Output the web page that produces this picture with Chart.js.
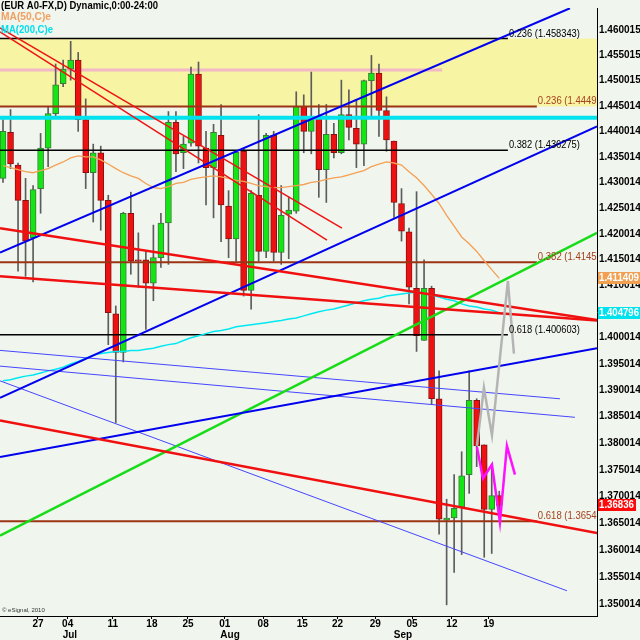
<!DOCTYPE html>
<html><head><meta charset="utf-8">
<script src="https://cdn.jsdelivr.net/npm/chart.js@4.4.1/dist/chart.umd.min.js"></script>
<style>html,body{margin:0;padding:0;background:#f0f5ee;}canvas{display:block;}</style>
</head><body>
<canvas id="c" width="640" height="640"></canvas>
<script>
// ---------- DATA ----------
const opens = [1.4308,1.4398,1.4334,1.4265,1.4192,1.4288,1.4367,1.4435,1.4494,1.4523,
1.4541,1.4423,1.4319,1.4358,1.4265,1.4046,1.3972,1.4240,1.4150,1.4150,
1.4105,1.4154,1.4221,1.4418,1.4358,1.4377,1.4513,1.4367,1.4329,1.4392,
1.4254,1.4190,1.4361,1.4091,1.4275,1.4166,1.4392,1.4164,1.4238,1.4244,
1.4449,1.4400,1.4425,1.4325,1.4394,1.4358,1.4433,1.4406,1.4375,1.4500,
1.4515,1.4441,1.4381,1.4259,1.4204,1.4095,1.3995,1.4095,1.3884,1.3656,
1.3660,1.3680,1.3741,1.3881,1.3797,1.3676,1.3702];
const highs = [1.4423,1.4443,1.4338,1.4308,1.4294,1.4396,1.4449,1.4533,1.4541,1.4578,
1.4556,1.4464,1.4375,1.4371,1.4275,1.4061,1.4242,1.4281,1.4202,1.4166,
1.4217,1.4240,1.4439,1.4439,1.4390,1.4527,1.4537,1.4400,1.4414,1.4453,
1.4284,1.4361,1.4365,1.4284,1.4433,1.4396,1.4400,1.4294,1.4271,1.4478,
1.4472,1.4517,1.4453,1.4453,1.4416,1.4501,1.4482,1.4462,1.4501,1.4550,
1.4533,1.4468,1.4381,1.4288,1.4211,1.4282,1.4150,1.4099,1.3937,1.3695,
1.3741,1.3784,1.3937,1.3884,1.3797,1.3760,1.3710];
const lows = [1.4300,1.4327,1.4128,1.4118,1.4107,1.4240,1.4331,1.4429,1.4488,1.4501,
1.4400,1.4288,1.4223,1.4207,1.3987,1.3839,1.3954,1.4122,1.4097,1.4016,
1.4071,1.4135,1.4141,1.4321,1.4327,1.4371,1.4338,1.4256,1.4231,1.4185,
1.4154,1.4147,1.4080,1.4055,1.4147,1.4154,1.4147,1.4141,1.4152,1.4240,
1.4358,1.4356,1.4271,1.4261,1.4348,1.4356,1.4383,1.4329,1.4333,1.4425,
1.4390,1.4361,1.4232,1.4186,1.4065,1.3974,1.3995,1.3873,1.3630,1.3499,
1.3559,1.3592,1.3706,1.3756,1.3587,1.3594,1.3669];
const closes = [1.4400,1.4336,1.4265,1.4186,1.4286,1.4367,1.4435,1.4492,1.4523,1.4541,
1.4423,1.4319,1.4358,1.4265,1.4048,1.3972,1.4240,1.4147,1.4148,1.4105,
1.4154,1.4221,1.4418,1.4356,1.4375,1.4513,1.4371,1.4329,1.4398,1.4256,
1.4190,1.4359,1.4091,1.4279,1.4166,1.4392,1.4164,1.4236,1.4246,1.4449,
1.4400,1.4425,1.4325,1.4394,1.4358,1.4433,1.4408,1.4375,1.4500,1.4515,
1.4441,1.4383,1.4261,1.4205,1.4097,1.4004,1.4095,1.3884,1.3658,1.3660,
1.3678,1.3739,1.3881,1.3795,1.3676,1.3702,1.36836];
const ma50 = [1.4333,1.4329,1.4325,1.4321,1.4319,1.4323,1.4327,1.4334,1.4340,1.4348,
1.4352,1.4350,1.4350,1.4344,1.4336,1.4327,1.4319,1.4313,1.4308,1.4298,
1.4290,1.4288,1.4292,1.4298,1.4300,1.4306,1.4309,1.4311,1.4313,1.4311,
1.4308,1.4304,1.4302,1.4298,1.4294,1.4292,1.4290,1.4290,1.4292,1.4294,
1.4296,1.4300,1.4302,1.4306,1.4309,1.4311,1.4315,1.4319,1.4323,1.4331,
1.4336,1.4340,1.4338,1.4334,1.4321,1.4309,1.4294,1.4277,1.4259,1.4236,
1.4215,1.4194,1.4181,1.4166,1.4148,1.4131,1.411409];
const ma200 = [1.3918,1.3920,1.3924,1.3927,1.3929,1.3933,1.3937,1.3940,1.3944,1.3950,
1.3955,1.3961,1.3967,1.3970,1.3972,1.3974,1.3974,1.3976,1.3976,1.3978,
1.3980,1.3984,1.3987,1.3989,1.3995,1.4000,1.4004,1.4008,1.4012,1.4014,
1.4017,1.4021,1.4023,1.4025,1.4027,1.4029,1.4031,1.4033,1.4036,1.4038,
1.4042,1.4046,1.4050,1.4053,1.4055,1.4059,1.4063,1.4067,1.4071,1.4074,
1.4076,1.4080,1.4082,1.4084,1.4086,1.4088,1.4086,1.4082,1.4078,1.4074,
1.4071,1.4065,1.4061,1.4059,1.4055,1.4053,1.404796];

const yTickLabels = ['1.460015','1.455015','1.450015','1.445014','1.440014','1.435014',
'1.430014','1.425014','1.420014','1.415014','1.410014','1.400014','1.395014',
'1.390014','1.385014','1.380014','1.375014','1.370014','1.365014','1.360014','1.355014','1.350014'];
const dayTickPos = [4.65, 8.6, 14.6, 19.8, 24.6, 29.5, 34.6, 39.8, 44.5, 49.5, 54.4, 59.7, 64.6];
const dayTickLabels = ['27','04','11','18','25','01','08','15','22','29','05','12','19'];
const monthTickPos = [8.9, 30.2, 53.2];
const monthTickLabels = ['Jul','Aug','Sep'];

const fibBlackNames = ['0.236','0.382','0.618'];
const fibBlackPrices = [1.458343, 1.436275, 1.400603];
const fibBlackEnd = 67.15;
const fibBrownNames = ['0.236','0.382','0.618'];
const fibBrownPrices = [1.4449, 1.4145, 1.3654];
const fibBrownEnd = 71.0;
const pinkLevel = 1.4521, pinkEnd = 58.4;
const cyanLevel = 1.4427;

// trend lines: [[xIndex, price],[xIndex, price]]
const redChannel = [[[-0.4,1.4605],[45.08,1.4211]], [[-0.4,1.4597],[43.09,1.4188]]];
const redLines = [[[-0.4,1.4211],[79,1.4034]], [[-0.4,1.4118],[79,1.4033]], [[-0.4,1.3843],[79,1.3632]]];
const blueThick = [[[-0.4,1.4164],[75.4,1.4644]], [[-0.4,1.3886],[79,1.4410]], [[-0.4,1.3774],[79,1.3980]]];
const blueThin = [[[-0.4,1.3976],[74.07,1.3884]], [[-0.4,1.3946],[76.06,1.3849]], [[-0.4,1.3918],[75.0,1.3525]]];
const greenLine = [[-0.4,1.3627],[79,1.4202]];
const grayX = [63.03, 63.96, 65.03, 67.15, 67.95];
const grayY = [1.3795, 1.3905, 1.3815, 1.4109, 1.3970];
const magX = [63.03, 63.83, 65.03, 66.09, 67.02, 68.09];
const magY = [1.3793, 1.3734, 1.3760, 1.3652, 1.3795, 1.3741];

const X_MIN = -0.4, X_MAX = 79;
const Y_MIN = 1.34785, Y_MAX = 1.46445;

// ---------- BUILD ----------
const FONT = '"Liberation Sans", Arial, sans-serif';
const idx = opens.map((_, i) => i);
const up = idx.map(i => closes[i] >= opens[i]);
const pts = s => s.map(([x, y]) => ({x, y}));
function lineDs(data, color, width, order, extra) {
  return Object.assign({type:'line', data, borderColor:color, borderWidth:width, pointRadius:0,
    tension:0, fill:false, order}, extra || {});
}
const hline = (y, x1, x2) => [{x:x1, y}, {x:x2, y}];

const datasets = [];
datasets.push(lineDs(hline(fibBlackPrices[0], X_MIN, X_MAX), 'rgba(0,0,0,0)', 0, 100,
  {fill:{value:fibBrownPrices[0]}, backgroundColor:'#f7f4a4'}));
datasets.push(lineDs(hline(pinkLevel, X_MIN, pinkEnd), '#f2b8c6', 3, 95));
datasets.push({type:'bar', data: idx.map(i => ({x:i, y:[lows[i], highs[i]]})), backgroundColor:'#5c5c5c',
  barThickness:1, grouped:false, order:80});
datasets.push({type:'bar', data: idx.map(i => ({x:i, y:[opens[i], closes[i]]})),
  backgroundColor: idx.map(i => up[i] ? '#14e614' : '#ee1111'),
  borderColor: idx.map(i => up[i] ? '#3c7a3c' : '#8a1010'),
  borderWidth:1, borderSkipped:false, barThickness:6, grouped:false, minBarLength:1, order:79});
datasets.push(lineDs(hline(cyanLevel, X_MIN, X_MAX), '#00e3ee', 4, 72));
fibBrownPrices.forEach(p => datasets.push(lineDs(hline(p, X_MIN, fibBrownEnd), '#9c3414', 2, 71)));
fibBlackPrices.forEach(p => datasets.push(lineDs(hline(p, X_MIN, fibBlackEnd), '#000000', 1.5, 70)));
datasets.push(lineDs(idx.map(i => ({x:i, y:ma50[i]})), '#f4a055', 1.3, 60));
datasets.push(lineDs(idx.map(i => ({x:i, y:ma200[i]})), '#00e8f2', 1.5, 60));
blueThin.forEach(s => datasets.push(lineDs(pts(s), '#4646ff', 1, 52)));
redChannel.forEach(s => datasets.push(lineDs(pts(s), '#ee1414', 1.5, 51)));
redLines.forEach(s => datasets.push(lineDs(pts(s), '#f01010', 2.5, 50)));
blueThick.forEach(s => datasets.push(lineDs(pts(s), '#0000ee', 2, 50)));
datasets.push(lineDs(pts(greenLine), '#18dc18', 2.5, 50));
datasets.push(lineDs(grayX.map((x, k) => ({x, y:grayY[k]})), '#b4b4b4', 2.5, 40));
datasets.push(lineDs(magX.map((x, k) => ({x, y:magY[k]})), '#ff10ff', 2.5, 39));

const xTicks = dayTickPos.map((v, k) => ({value:v, txt:dayTickLabels[k], month:false}))
  .concat(monthTickPos.map((v, k) => ({value:v, txt:['', monthTickLabels[k]], month:true})))
  .sort((a, b) => a.value - b.value);

const textPlugin = {
  id: 'texts',
  beforeDraw(chart) {
    const c = chart.ctx; c.save(); c.fillStyle = '#f0f5ee'; c.fillRect(0, 0, chart.width, chart.height); c.restore();
  },
  afterDraw(chart) {
    const ctx = chart.ctx, xs = chart.scales.x, ys = chart.scales.y, a = chart.chartArea;
    ctx.save();
    ctx.beginPath(); ctx.rect(a.left, a.top, a.right - a.left, a.bottom - a.top); ctx.clip();
    ctx.font = '11px ' + FONT; ctx.textBaseline = 'alphabetic'; ctx.textAlign = 'left';
    fibBlackNames.forEach((n, k) => {
      const p = fibBlackPrices[k];
      ctx.fillStyle = '#000';
      ctx.fillText(n + ' (' + p + ')', xs.getPixelForValue(fibBlackEnd) + 1, ys.getPixelForValue(p) - 2, 71);
    });
    fibBrownNames.forEach((n, k) => {
      const p = fibBrownPrices[k];
      ctx.fillStyle = '#a5401c';
      ctx.fillText(n + ' (' + p + ')', xs.getPixelForValue(fibBrownEnd) + 1, ys.getPixelForValue(p) - 2, 62);
    });
    ctx.restore();

    ctx.save();
    ctx.textBaseline = 'middle'; ctx.textAlign = 'left';
    ctx.font = 'bold 11px ' + FONT;
    ctx.fillStyle = '#000'; ctx.fillText('(EUR A0-FX,D) Dynamic,0:00-24:00', 1, 6, 157);
    ctx.fillStyle = '#f0a060'; ctx.fillText('MA(50,C)e', 1, 17, 50);
    ctx.fillStyle = '#00dfee'; ctx.fillText('MA(200,C)e', 1, 30, 52);
    ctx.font = '6px ' + FONT; ctx.fillStyle = '#333';
    ctx.fillText('\u00a9 eSignal, 2010', 2, 610, 44);

    const boxes = [
      {v: ma50[ma50.length - 1], t: ma50[ma50.length - 1].toFixed(6), bg: '#f0a050', w: 43},
      {v: ma200[ma200.length - 1], t: ma200[ma200.length - 1].toFixed(6), bg: '#00e3ee', w: 43},
      {v: closes[closes.length - 1], t: closes[closes.length - 1].toFixed(5), bg: '#ff0a0a', w: 38}
    ];
    ctx.font = 'bold 10px ' + FONT;
    boxes.forEach(b => {
      const y = Math.round(ys.getPixelForValue(b.v));
      ctx.fillStyle = b.bg; ctx.fillRect(a.right + 1, y - 6, b.w, 12);
      ctx.fillStyle = '#fff'; ctx.fillText(b.t, a.right + 2, y + 0.5, b.w - 3);
    });
    ctx.restore();
  }
};

new Chart(document.getElementById('c'), {
  type: 'bar',
  data: {datasets},
  plugins: [textPlugin],
  options: {
    responsive: false, animation: false, events: [],
    layout: {padding: 0},
    plugins: {legend: {display: false}, tooltip: {enabled: false}},
    scales: {
      x: {
        type: 'linear', min: X_MIN, max: X_MAX, offset: false, position: 'bottom',
        afterBuildTicks: s => { s.ticks = xTicks.map(t => Object.assign({}, t)); },
        afterFit: s => { s.height = 24; },
        grid: {display: true, drawOnChartArea: false, drawTicks: true, tickLength: 3, offset: false,
          tickColor: c => (c.tick && c.tick.month) ? 'rgba(0,0,0,0)' : '#000'},
        border: {display: true, color: '#000', width: 1},
        ticks: {autoSkip: false, maxRotation: 0, minRotation: 0, padding: 0, color: '#000',
          font: {family: FONT, size: 10, weight: 'bold', lineHeight: 1.1},
          callback: (v, i, t) => t[i].txt}
      },
      y: {
        type: 'logarithmic', position: 'right', min: Y_MIN, max: Y_MAX, bounds: 'data',
        afterBuildTicks: s => { s.ticks = yTickLabels.slice().reverse().map(l => ({value: Number(l), txt: l})); },
        afterFit: s => { s.width = 43; },
        grid: {display: false, drawTicks: false},
        border: {display: true, color: '#000', width: 1},
        ticks: {autoSkip: false, padding: 2, color: '#000',
          font: {family: FONT, size: 10, weight: 'bold'},
          callback: (v, i, t) => t[i].txt}
      }
    }
  }
});
</script>
</body></html>
